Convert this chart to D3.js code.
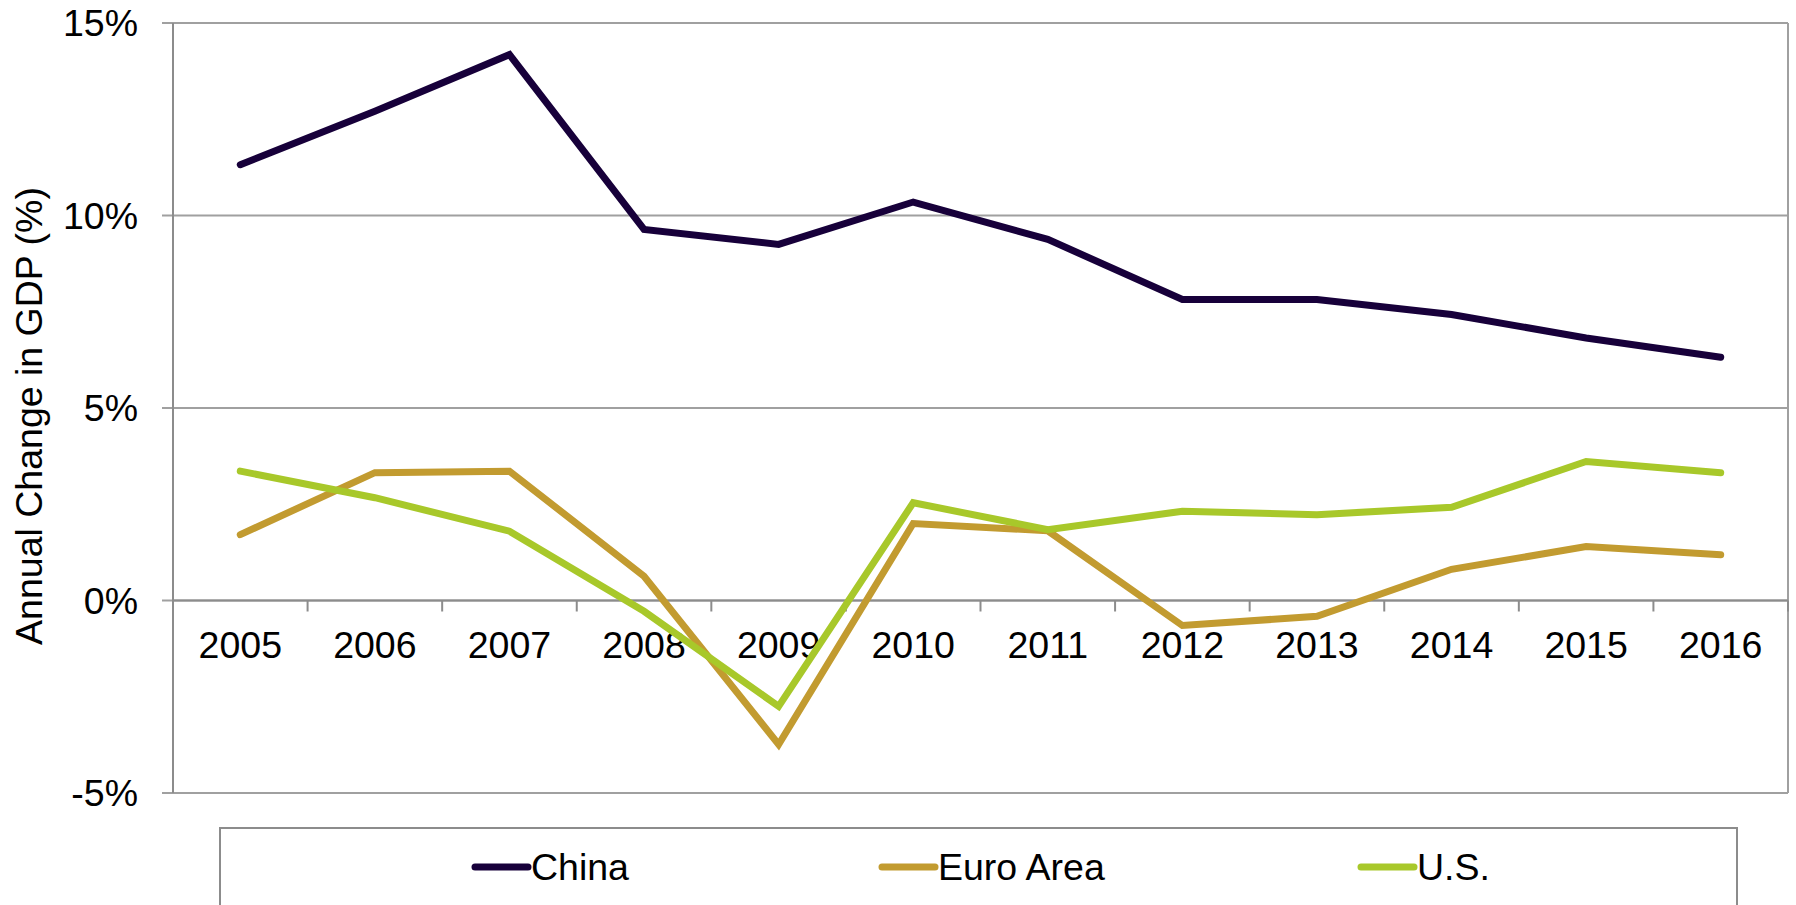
<!DOCTYPE html>
<html lang="en">
<head>
  <meta charset="UTF-8" />
  <title>Annual Change in GDP</title>
  <script src="https://d3js.org/d3.v7.min.js"></script>
  <style>
    html, body {
      margin: 0;
      padding: 0;
      background: #ffffff;
      overflow: hidden;
      font-family: 'Liberation Sans', Arial, sans-serif;
    }
    svg { display: block; }
    .tick-label {
      font-size: 37.5px;
      fill: #000;
    }
    .legend-label {
      font-size: 37.5px;
      fill: #000;
    }
  </style>
</head>
<body>
<svg id="chart" width="1796" height="905"></svg>
<script>
// data
const years = ["2005", "2006", "2007", "2008", "2009", "2010", "2011", "2012", "2013", "2014", "2015", "2016"];
const china = [11.32, 12.71, 14.18, 9.64, 9.25, 10.35, 9.38, 7.82, 7.82, 7.43, 6.82, 6.32];
const euroArea = [1.71, 3.32, 3.36, 0.63, -3.74, 2.0, 1.81, -0.65, -0.41, 0.81, 1.40, 1.19];
const us = [3.36, 2.67, 1.80, -0.28, -2.75, 2.54, 1.84, 2.32, 2.23, 2.42, 3.61, 3.32];
const yTicks = [-5, 0, 5, 10, 15];

const series = [
  { name: "China", values: china, color: "#17003a" },
  { name: "Euro Area", values: euroArea, color: "#c29b30" },
  { name: "U.S.", values: us, color: "#a8c82a" }
];

const svg = d3.select("#chart");
const plotLeft = 173, plotRight = 1788, plotTop = 23, plotBottom = 793;

const x = d3.scaleBand().domain(years).range([plotLeft, plotRight]);
const y = d3.scaleLinear().domain([-5, 15]).range([plotBottom, plotTop]);

// horizontal gridlines with small outer ticks
svg.append("g")
  .selectAll("line")
  .data(yTicks)
  .enter()
  .append("line")
  .attr("x1", plotLeft - 11)
  .attr("x2", plotRight)
  .attr("y1", d => y(d))
  .attr("y2", d => y(d))
  .attr("stroke", "#a0a0a0")
  .attr("stroke-width", 2);

// right border
svg.append("line")
  .attr("x1", plotRight).attr("x2", plotRight)
  .attr("y1", plotTop).attr("y2", plotBottom)
  .attr("stroke", "#a0a0a0")
  .attr("stroke-width", 2);

// left axis
svg.append("line")
  .attr("x1", plotLeft).attr("x2", plotLeft)
  .attr("y1", plotTop).attr("y2", plotBottom)
  .attr("stroke", "#8c8c8c")
  .attr("stroke-width", 2);

// x axis at zero
svg.append("line")
  .attr("x1", plotLeft).attr("x2", plotRight)
  .attr("y1", y(0)).attr("y2", y(0))
  .attr("stroke", "#8c8c8c")
  .attr("stroke-width", 2);

const tickPos = years.map(d => x(d)).concat([plotRight]);
svg.append("g")
  .selectAll("line")
  .data(tickPos)
  .enter()
  .append("line")
  .attr("x1", d => d).attr("x2", d => d)
  .attr("y1", y(0)).attr("y2", y(0) + 11)
  .attr("stroke", "#8c8c8c")
  .attr("stroke-width", 2);

// y tick labels
svg.append("g")
  .selectAll("text")
  .data(yTicks)
  .enter()
  .append("text")
  .attr("class", "tick-label")
  .attr("x", 138)
  .attr("y", d => y(d))
  .attr("dy", "0.35em")
  .attr("text-anchor", "end")
  .text(d => d + "%");

// x tick labels
svg.append("g")
  .selectAll("text")
  .data(years)
  .enter()
  .append("text")
  .attr("class", "tick-label")
  .attr("x", d => x(d) + x.bandwidth() / 2)
  .attr("y", 658)
  .attr("text-anchor", "middle")
  .text(d => d);

// y axis title
svg.append("text")
  .attr("class", "tick-label")
  .attr("transform", "translate(42, 416) rotate(-90)")
  .attr("text-anchor", "middle")
  .text("Annual Change in GDP (%)");

// lines
const line = d3.line()
  .x((d, i) => x(years[i]) + x.bandwidth() / 2)
  .y(d => y(d));

svg.append("g")
  .selectAll("path")
  .data(series)
  .enter()
  .append("path")
  .attr("d", d => line(d.values))
  .attr("fill", "none")
  .attr("stroke", d => d.color)
  .attr("stroke-width", 7)
  .attr("stroke-linejoin", "miter")
  .attr("stroke-linecap", "round");

// legend
svg.append("rect")
  .attr("x", 220)
  .attr("y", 828)
  .attr("width", 1517)
  .attr("height", 120)
  .attr("fill", "#fff")
  .attr("stroke", "#8c8c8c")
  .attr("stroke-width", 2);

const legendX = [472, 879, 1358];
const legend = svg.append("g")
  .selectAll("g")
  .data(series)
  .enter()
  .append("g")
  .attr("transform", (d, i) => `translate(${legendX[i]}, 867)`);

legend.append("line")
  .attr("x1", 3).attr("x2", 56)
  .attr("y1", 0).attr("y2", 0)
  .attr("stroke", d => d.color)
  .attr("stroke-width", 7)
  .attr("stroke-linecap", "round");

legend.append("text")
  .attr("class", "legend-label")
  .attr("x", 59)
  .attr("dy", "0.35em")
  .text(d => d.name);
</script>
</body>
</html>
